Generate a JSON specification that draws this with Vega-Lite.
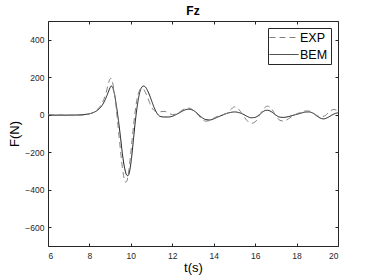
{
  "$schema": "https://vega.github.io/schema/vega-lite/v6.json",
  "width": 290,
  "height": 225,
  "autosize": "none",
  "padding": {"left": 48, "top": 21, "right": 36, "bottom": 34},
  "background": "white",
  "title": {"text": "Fz", "fontSize": 12, "font": "Liberation Sans", "fontWeight": "bold", "color": "#000000", "offset": 3},
  "config": {
    "view": {"stroke": null},
    "axis": {"labelFont": "Liberation Sans", "titleFont": "Liberation Sans", "labelFontSize": 8.5, "labelColor": "#262626", "domainColor": "#262626", "tickColor": "#262626", "grid": false, "titleFontWeight": "normal", "titleColor": "#000000", "titleFontSize": 13}
  },
  "data": {"values": [
    {"t":6.0,"s":"BEM","f":-2},{"t":6.5,"s":"BEM","f":-2},{"t":7.0,"s":"BEM","f":-2},{"t":7.5,"s":"BEM","f":-1},{"t":7.8,"s":"BEM","f":2},{"t":8.0,"s":"BEM","f":5},{"t":8.2,"s":"BEM","f":12},{"t":8.4,"s":"BEM","f":25},{"t":8.6,"s":"BEM","f":48},{"t":8.8,"s":"BEM","f":90},{"t":8.9,"s":"BEM","f":118},{"t":9.0,"s":"BEM","f":145},{"t":9.05,"s":"BEM","f":153},{"t":9.1,"s":"BEM","f":150},{"t":9.2,"s":"BEM","f":115},{"t":9.3,"s":"BEM","f":50},{"t":9.4,"s":"BEM","f":-30},{"t":9.5,"s":"BEM","f":-120},{"t":9.6,"s":"BEM","f":-215},{"t":9.7,"s":"BEM","f":-285},{"t":9.8,"s":"BEM","f":-322},{"t":9.85,"s":"BEM","f":-325},{"t":9.9,"s":"BEM","f":-318},{"t":10.0,"s":"BEM","f":-260},{"t":10.1,"s":"BEM","f":-160},{"t":10.2,"s":"BEM","f":-50},{"t":10.3,"s":"BEM","f":40},{"t":10.4,"s":"BEM","f":105},{"t":10.5,"s":"BEM","f":142},{"t":10.6,"s":"BEM","f":153},{"t":10.7,"s":"BEM","f":148},{"t":10.8,"s":"BEM","f":130},{"t":10.9,"s":"BEM","f":105},{"t":11.0,"s":"BEM","f":75},{"t":11.1,"s":"BEM","f":45},{"t":11.2,"s":"BEM","f":20},{"t":11.3,"s":"BEM","f":2},{"t":11.4,"s":"BEM","f":-8},{"t":11.6,"s":"BEM","f":-12},{"t":11.8,"s":"BEM","f":-12},{"t":12.0,"s":"BEM","f":-8},{"t":12.2,"s":"BEM","f":2},{"t":12.4,"s":"BEM","f":14},{"t":12.6,"s":"BEM","f":25},{"t":12.8,"s":"BEM","f":30},{"t":13.0,"s":"BEM","f":24},{"t":13.2,"s":"BEM","f":8},{"t":13.4,"s":"BEM","f":-12},{"t":13.6,"s":"BEM","f":-25},{"t":13.8,"s":"BEM","f":-28},{"t":14.0,"s":"BEM","f":-22},{"t":14.2,"s":"BEM","f":-12},{"t":14.4,"s":"BEM","f":-3},{"t":14.6,"s":"BEM","f":6},{"t":14.8,"s":"BEM","f":12},{"t":15.0,"s":"BEM","f":15},{"t":15.2,"s":"BEM","f":12},{"t":15.4,"s":"BEM","f":4},{"t":15.6,"s":"BEM","f":-8},{"t":15.8,"s":"BEM","f":-16},{"t":16.0,"s":"BEM","f":-14},{"t":16.2,"s":"BEM","f":0},{"t":16.4,"s":"BEM","f":18},{"t":16.5,"s":"BEM","f":23},{"t":16.6,"s":"BEM","f":24},{"t":16.8,"s":"BEM","f":15},{"t":17.0,"s":"BEM","f":-2},{"t":17.2,"s":"BEM","f":-13},{"t":17.4,"s":"BEM","f":-14},{"t":17.6,"s":"BEM","f":-10},{"t":17.8,"s":"BEM","f":-4},{"t":18.0,"s":"BEM","f":2},{"t":18.2,"s":"BEM","f":8},{"t":18.4,"s":"BEM","f":14},{"t":18.6,"s":"BEM","f":15},{"t":18.8,"s":"BEM","f":8},{"t":19.0,"s":"BEM","f":-8},{"t":19.2,"s":"BEM","f":-20},{"t":19.3,"s":"BEM","f":-22},{"t":19.5,"s":"BEM","f":-15},{"t":19.7,"s":"BEM","f":-2},{"t":19.9,"s":"BEM","f":8},{"t":20.0,"s":"BEM","f":10},
    {"t":6.0,"s":"EXP","f":0},{"t":7.0,"s":"EXP","f":-2},{"t":7.5,"s":"EXP","f":-3},{"t":7.8,"s":"EXP","f":0},{"t":8.0,"s":"EXP","f":5},{"t":8.2,"s":"EXP","f":14},{"t":8.4,"s":"EXP","f":30},{"t":8.6,"s":"EXP","f":60},{"t":8.8,"s":"EXP","f":115},{"t":8.9,"s":"EXP","f":160},{"t":9.0,"s":"EXP","f":192},{"t":9.05,"s":"EXP","f":195},{"t":9.1,"s":"EXP","f":180},{"t":9.2,"s":"EXP","f":120},{"t":9.3,"s":"EXP","f":30},{"t":9.4,"s":"EXP","f":-80},{"t":9.5,"s":"EXP","f":-190},{"t":9.6,"s":"EXP","f":-290},{"t":9.7,"s":"EXP","f":-350},{"t":9.75,"s":"EXP","f":-360},{"t":9.8,"s":"EXP","f":-355},{"t":9.9,"s":"EXP","f":-300},{"t":10.0,"s":"EXP","f":-200},{"t":10.1,"s":"EXP","f":-90},{"t":10.2,"s":"EXP","f":10},{"t":10.3,"s":"EXP","f":85},{"t":10.4,"s":"EXP","f":125},{"t":10.5,"s":"EXP","f":140},{"t":10.6,"s":"EXP","f":138},{"t":10.7,"s":"EXP","f":120},{"t":10.8,"s":"EXP","f":95},{"t":10.9,"s":"EXP","f":65},{"t":11.0,"s":"EXP","f":40},{"t":11.1,"s":"EXP","f":25},{"t":11.2,"s":"EXP","f":18},{"t":11.4,"s":"EXP","f":16},{"t":11.6,"s":"EXP","f":18},{"t":11.8,"s":"EXP","f":12},{"t":12.0,"s":"EXP","f":0},{"t":12.2,"s":"EXP","f":5},{"t":12.4,"s":"EXP","f":18},{"t":12.6,"s":"EXP","f":32},{"t":12.8,"s":"EXP","f":35},{"t":13.0,"s":"EXP","f":25},{"t":13.2,"s":"EXP","f":5},{"t":13.4,"s":"EXP","f":-20},{"t":13.6,"s":"EXP","f":-34},{"t":13.8,"s":"EXP","f":-32},{"t":14.0,"s":"EXP","f":-18},{"t":14.2,"s":"EXP","f":-8},{"t":14.4,"s":"EXP","f":0},{"t":14.6,"s":"EXP","f":6},{"t":14.8,"s":"EXP","f":25},{"t":15.0,"s":"EXP","f":42},{"t":15.2,"s":"EXP","f":30},{"t":15.4,"s":"EXP","f":0},{"t":15.6,"s":"EXP","f":-30},{"t":15.8,"s":"EXP","f":-46},{"t":16.0,"s":"EXP","f":-38},{"t":16.2,"s":"EXP","f":-5},{"t":16.4,"s":"EXP","f":30},{"t":16.6,"s":"EXP","f":46},{"t":16.8,"s":"EXP","f":30},{"t":17.0,"s":"EXP","f":-5},{"t":17.2,"s":"EXP","f":-30},{"t":17.4,"s":"EXP","f":-34},{"t":17.6,"s":"EXP","f":-22},{"t":17.8,"s":"EXP","f":-8},{"t":18.0,"s":"EXP","f":5},{"t":18.2,"s":"EXP","f":12},{"t":18.4,"s":"EXP","f":20},{"t":18.6,"s":"EXP","f":20},{"t":18.8,"s":"EXP","f":8},{"t":19.0,"s":"EXP","f":-5},{"t":19.2,"s":"EXP","f":-10},{"t":19.4,"s":"EXP","f":-3},{"t":19.6,"s":"EXP","f":18},{"t":19.8,"s":"EXP","f":28},{"t":20.0,"s":"EXP","f":20}
  ]},
  "layer": [
    {
      "mark": {"type": "line", "strokeWidth": 1, "interpolate": "monotone"},
      "encoding": {
        "x": {"field": "t", "type": "quantitative", "scale": {"domain": [6, 20], "nice": false}, "axis": {"values": [6, 8, 10, 12, 14, 16, 18, 20], "tickSize": -3, "labelPadding": 8, "title": "t(s)", "titlePadding": 2}},
        "y": {"field": "f", "type": "quantitative", "scale": {"domain": [-700, 500], "nice": false}, "axis": {"values": [-600, -400, -200, 0, 200, 400], "tickSize": -3, "labelPadding": 7, "title": "F(N)", "titlePadding": 3}},
        "color": {"field": "s", "type": "nominal", "scale": {"domain": ["EXP", "BEM"], "range": ["#808080", "#1a1a1a"]}, "legend": {"title": null, "orient": "top-right", "offset": 7, "labelFont": "Liberation Sans", "labelFontSize": 12.5, "labelColor": "#000000", "symbolType": "M-1.33,0H3.5", "symbolSize": 144, "symbolStrokeWidth": 1, "strokeColor": "#262626", "fillColor": "white", "padding": 3, "rowPadding": 4, "labelOffset": 16}},
        "strokeDash": {"field": "s", "type": "nominal", "scale": {"domain": ["EXP", "BEM"], "range": [[6, 4], [1, 0]]}, "legend": null}
      }
    },
    {
      "mark": {"type": "line", "opacity": 0},
      "encoding": {
        "x": {"field": "t", "type": "quantitative", "axis": {"orient": "top", "values": [6, 8, 10, 12, 14, 16, 18, 20], "tickSize": -3, "labels": false, "title": null}},
        "y": {"field": "f", "type": "quantitative", "axis": {"orient": "right", "values": [-600, -400, -200, 0, 200, 400], "tickSize": -3, "labels": false, "title": null}}
      }
    }
  ],
  "resolve": {"axis": {"x": "independent", "y": "independent"}}
}
